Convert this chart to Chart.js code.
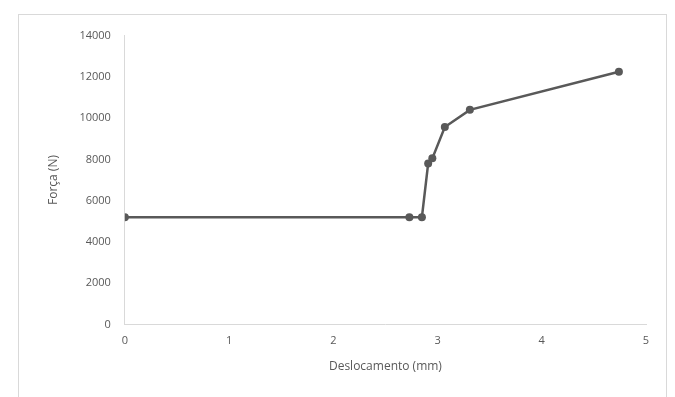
<!DOCTYPE html>
<html>
<head>
<meta charset="utf-8">
<script src="https://cdn.jsdelivr.net/npm/chart.js@4"></script>
<style>
  body { margin: 0; background: #fff; }
  #box { position: absolute; left: 18px; top: 14px; width: 649px; height: 390px; border: 1px solid #d9d9d9; box-sizing: border-box; }
</style>
</head>
<body>
<div id="box"><canvas id="chart"></canvas></div>
<script>
// deslocamento (mm) vs força (N)
const deslocamento = [0, 2.73, 2.85, 2.91, 2.95, 3.07, 3.31, 4.74];
const forca = [5200, 5200, 5200, 7800, 8050, 9570, 10400, 12250];

const pontos = deslocamento.map((x, i) => ({ x: x, y: forca[i] }));

const ctx = document.getElementById('chart').getContext('2d');
new Chart(ctx, {
    type: 'scatter',
    data: {
        datasets: [{
            data: pontos,
            showLine: true,
            borderColor: '#595959',
            backgroundColor: '#595959',
            borderWidth: 2.5,
            pointRadius: 4,
            pointBorderWidth: 0
        }]
    },
    options: {
        responsive: true,
        maintainAspectRatio: false,
        animation: false,
        layout: { padding: { top: 6, right: 20, bottom: 25, left: 23 } },
        plugins: { legend: { display: false }, tooltip: { enabled: false } },
        scales: {
            x: {
                min: 0, max: 5,
                ticks: { stepSize: 1, color: '#595959', padding: 10, font: { family: 'Open Sans', size: 11 } },
                grid: { display: false, drawTicks: false },
                border: { color: '#d9d9d9', width: 1 },
                title: { display: true, text: 'Deslocamento (mm)', color: '#595959', font: { family: 'Open Sans', size: 12 }, padding: { top: 2 } }
            },
            y: {
                min: 0, max: 14000,
                ticks: { stepSize: 2000, color: '#595959', padding: 14, font: { family: 'Open Sans', size: 11 },
                    callback: v => String(v) },
                grid: { display: false, drawTicks: false },
                border: { color: '#d9d9d9', width: 1 },
                title: { display: true, text: 'Força (N)', color: '#595959', font: { family: 'Open Sans', size: 12 }, padding: { bottom: 5 } }
            }
        }
    }
});
</script>
</body>
</html>
